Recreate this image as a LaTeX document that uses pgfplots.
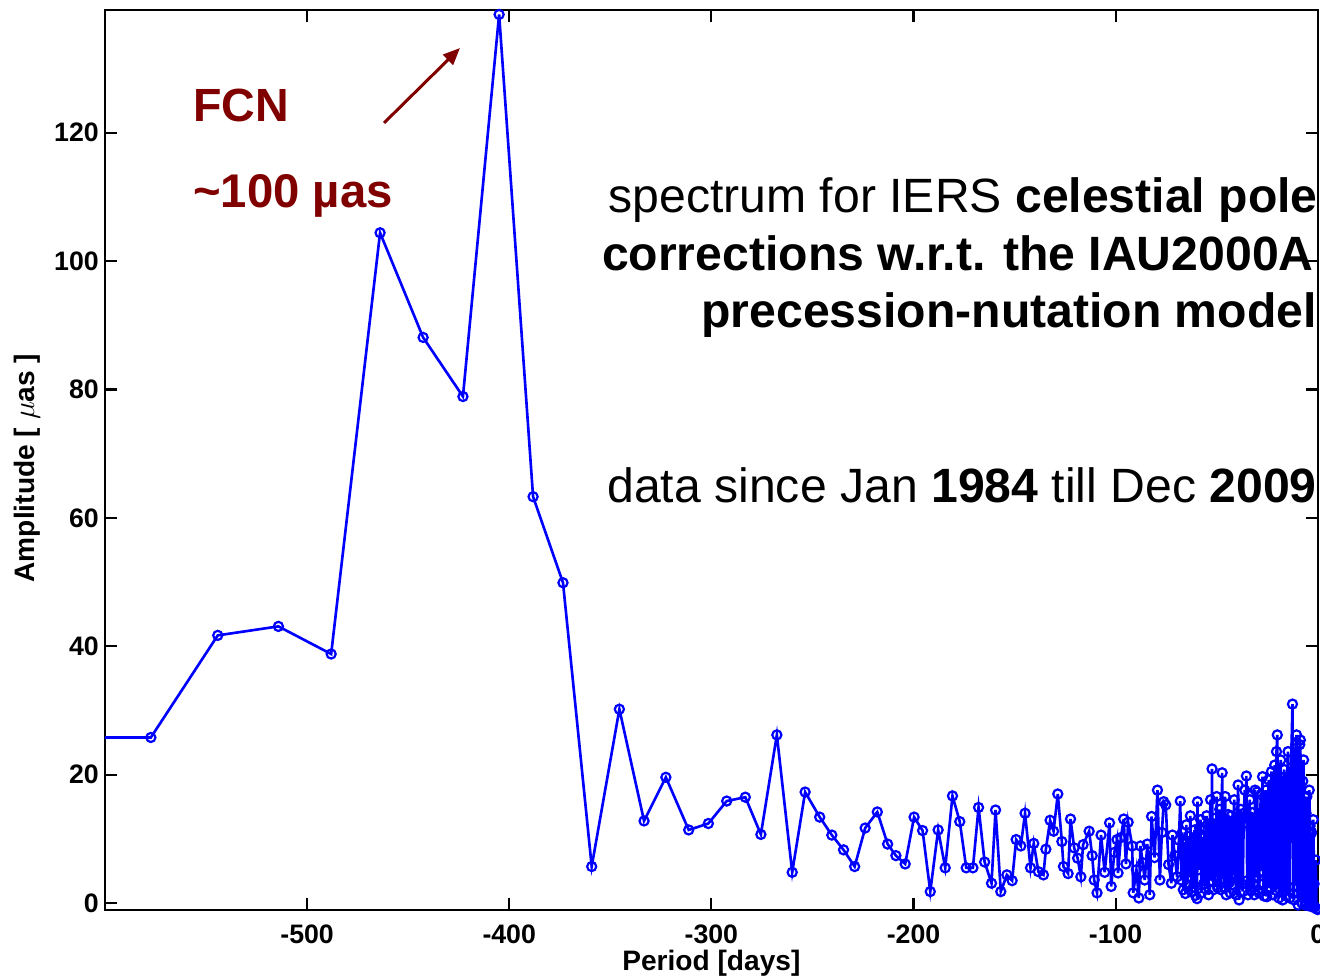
\documentclass[border=0pt]{standalone}
\usepackage{fontspec}
\setmainfont{Liberation Sans}
\usepackage{pgfplots}
\pgfplotsset{compat=1.18}
\usetikzlibrary{arrows.meta}
\definecolor{fcn}{RGB}{128,0,0}
\definecolor{mblue}{RGB}{0,0,255}
\pgfplotstableread{
X Y
-620 25.8
-577.3 25.8
-544.2 41.7
-514.2 43.1
-488.1 38.8
-463.9 104.4
-442.6 88.1
-422.9 78.9
-405.0 138.4
-388.2 63.3
-373.4 49.9
-359.2 5.7
-345.5 30.2
-333.3 12.8
-322.5 19.6
-311.2 11.4
-301.5 12.4
-292.4 15.9
-283.2 16.5
-275.5 10.7
-267.6 26.2
-260.0 4.8
-253.6 17.3
-246.4 13.4
-240.4 10.6
-234.6 8.3
-229.1 5.7
-223.9 11.7
-217.9 14.2
-212.8 9.2
-208.7 7.4
-204.1 6.1
-199.7 13.4
-195.5 11.3
-191.7 1.8
-187.8 11.4
-184.3 5.5
-180.7 16.7
-177.1 12.7
-173.9 5.5
-170.6 5.5
-167.8 14.9
-164.8 6.4
-161.4 3.1
-159.4 14.5
-156.8 1.8
-153.8 4.4
-151.2 3.5
-149.2 9.9
-146.9 8.9
-144.8 14.0
-142.1 5.5
-140.5 9.3
-138.2 4.9
-135.7 4.4
-134.5 8.4
-132.4 12.9
-130.7 11.2
-128.6 17.0
-126.6 9.6
-125.8 5.7
-123.5 4.6
-122.3 13.1
-120.5 8.6
-118.8 7.0
-117.2 4.1
-116.1 9.1
-113.1 11.2
-111.6 7.4
-110.6 3.6
-109.2 1.6
-107.2 10.6
-105.4 4.8
-103.0 12.5
-102.2 2.6
-100.6 7.9
-99.3 9.9
-98.8 4.7
-97.4 10.2
-96.0 13.1
-94.9 6.1
-93.8 12.6
-91.8 8.9
-91.3 1.6
-89.7 5.2
-88.5 0.8
-87.7 8.9
-86.6 6.3
-85.6 3.6
-84.3 9.2
-83.1 1.3
-82.2 13.5
-80.7 7.1
-79.3 17.6
-78.1 3.6
-77.1 11.0
-76.2 15.8
-75.2 15.3
-73.8 6.0
-72.4 3.1
-71.9 10.6
-70.7 7.4
-69.6 4.1
-68.7 9.8
-68.0 15.9
-67.5 3.6
-67.0 11.0
-66.5 2.1
-66.0 9.5
-65.5 1.5
-65.0 12.2
-64.5 2.9
-64.0 10.4
-63.5 4.0
-63.0 13.6
-62.5 1.8
-62.0 9.8
-61.5 2.5
-61.0 11.4
-60.5 1.2
-60.0 8.6
-59.7 0.7
-59.5 15.8
-59.0 5.2
-58.5 11.7
-58.0 13.0
-57.5 1.6
-57.0 10.3
-56.5 3.0
-56.0 11.4
-55.5 2.2
-55.0 13.6
-54.5 4.9
-54.0 1.3
-53.5 12.0
-53.0 16.1
-52.5 3.5
-52.3 20.9
-52.0 6.0
-51.5 2.1
-51.0 13.2
-50.5 4.0
-50.0 16.6
-49.5 2.4
-49.0 12.0
-48.5 14.6
-48.0 2.1
-47.5 10.0
-47.3 20.3
-46.8 6.7
-46.3 2.5
-45.8 16.6
-45.3 1.3
-44.8 12.4
-44.3 13.8
-43.8 3.2
-43.3 1.6
-42.8 13.6
-42.3 2.9
-41.8 11.8
-41.3 16.1
-40.8 4.5
-40.3 1.3
-39.8 13.0
-39.4 18.4
-38.9 0.5
-38.5 12.5
-38.1 14.6
-37.6 3.0
-37.1 1.8
-36.6 14.0
-36.1 17.6
-35.6 12.5
-35.3 19.8
-34.9 3.5
-34.5 1.3
-34.0 13.5
-33.6 16.1
-33.1 1.9
-32.7 12.0
-32.3 14.1
-31.8 3.0
-31.4 1.3
-31.0 17.6
-30.5 4.0
-30.0 17.3
-29.5 2.0
-29.0 1.6
-28.5 14.0
-28.1 16.9
-27.7 5.0
-27.3 19.7
-26.9 3.0
-26.5 1.1
-26.0 15.0
-25.6 17.6
-25.2 1.0
-24.8 13.0
-24.3 19.2
-23.9 2.5
-23.4 16.0
-22.9 20.5
-22.5 3.0
-22.1 1.3
-21.7 18.5
-21.3 21.5
-20.9 2.0
-20.4 23.6
-20.0 26.2
-19.6 4.0
-19.2 0.8
-18.8 18.0
-18.3 22.3
-17.9 3.0
-17.4 0.5
-17.0 19.0
-16.5 20.8
-16.1 2.0
-15.6 1.1
-15.2 19.0
-14.7 23.6
-14.3 2.5
-13.9 0.8
-13.5 18.0
-13.1 22.3
-12.5 31.0
-12.1 1.5
-11.7 0.5
-11.3 20.0
-10.9 24.7
-10.5 26.2
-10.1 2.5
-9.7 -0.3
-9.3 21.0
-8.9 24.7
-8.6 25.4
-8.2 2.0
-7.8 0.0
-7.4 19.0
-7.0 22.3
-6.6 1.0
-6.2 -0.3
-5.8 14.0
-5.4 16.6
-5.0 1.5
-4.6 -0.4
-4.2 17.6
-3.8 12.0
-3.4 -0.3
-3.0 11.0
-2.6 -0.6
-2.2 13.0
-1.8 3.0
-1.4 -0.6
-1.0 6.7
-0.5 -0.9
0.0 -1.0
}\spectrum
\begin{document}
\begin{tikzpicture}
\begin{axis}[
  at={(0,0)}, anchor=south west,
  scale only axis, width=24.26cm, height=18cm,
  xmin=-600, xmax=0, ymin=-1.04, ymax=139.1,
  xtick={-500,-400,-300,-200,-100,0},
  xticklabels={-500,-400,-300,-200,-100,0},
  ytick={0,20,40,60,80,100,120},
  yticklabels={0,20,40,60,80,100,120},
  tick align=inside, major tick length=0.24cm,
  axis line style={line width=1.4pt},
  tick style={black, line width=1.2pt},
  ticklabel style={font=\fontsize{15.2}{17}\selectfont\bfseries},
  xticklabel style={yshift=-0.18cm},
  xlabel={Period [days]}, ylabel={Amplitude [ $\mu$as ]},
  every axis x label/.style={at={(axis description cs:0.5,-0.0589)},anchor=center,font=\fontsize{16}{19}\selectfont\bfseries},
  every axis y label/.style={at={(axis description cs:-0.0643,0.491)},anchor=center,rotate=90,font=\fontsize{16}{19}\selectfont\bfseries},
]
\addplot[mblue, line width=1.5pt, mark=o, mark size=2.6pt, mark options={solid, line width=1.25pt}] table[x=X,y=Y] {\spectrum};
\end{axis}
\begin{scope}[shift={(-2.1cm,18.2cm)},x=0.02cm,y=-0.02cm]
  \node[anchor=base west, inner sep=0, text=fcn, font=\fontsize{26.5}{30}\selectfont\bfseries] at (193,122) {FCN};
  \node[anchor=base west, inner sep=0, text=fcn, font=\fontsize{26.9}{30}\selectfont\bfseries] at (193,208) {\char"007E 100 µas};
  \draw[fcn, line width=1.7pt, -{Triangle[length=0.34cm,width=0.28cm]}] (384,123) -- (460,48);
  \node[anchor=base east, inner sep=0, font=\fontsize{27.4}{30}\selectfont] at (1318,213) {spectrum for IERS \textbf{celestial pole}};
  \node[anchor=base east, inner sep=0, font=\fontsize{27.4}{30}\selectfont\bfseries] at (1314,271) {corrections w.r.t. the IAU2000A};
  \node[anchor=base east, inner sep=0, font=\fontsize{27.4}{30}\selectfont\bfseries] at (1317,328) {precession-nutation model};
  \node[anchor=base east, inner sep=0, font=\fontsize{27.4}{30}\selectfont] at (1317,503) {data since Jan \textbf{1984} till Dec \textbf{2009}};
  \pgfresetboundingbox
  \path[use as bounding box] (0,0) rectangle (1320,980);
\end{scope}
\end{tikzpicture}
\end{document}
